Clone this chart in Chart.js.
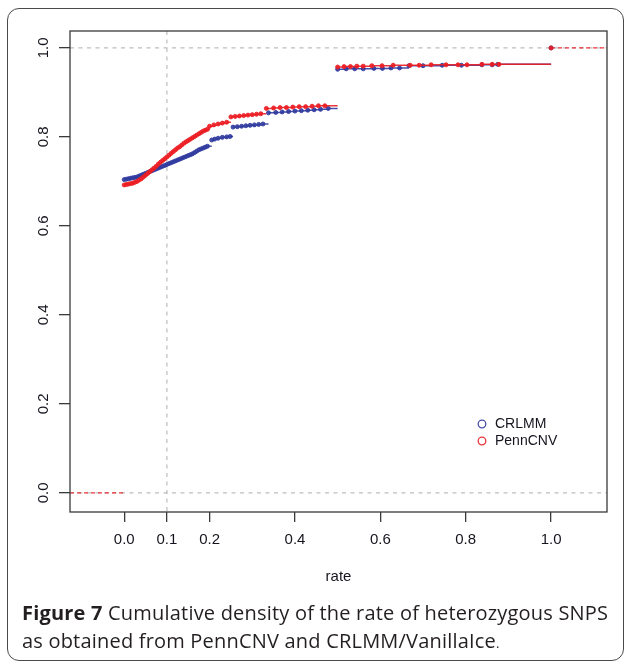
<!DOCTYPE html>
<html>
<head>
<meta charset="utf-8">
<script src="https://cdn.jsdelivr.net/npm/chart.js@4/dist/chart.umd.min.js"></script>
<style>
  html,body{margin:0;padding:0;background:#fff;}
  #frame{position:absolute;left:7px;top:8px;width:617px;height:653px;box-sizing:border-box;border:1.5px solid #4a4a4a;border-radius:12px;}
  #wrap{position:absolute;left:0;top:0;width:624px;height:600px;}
  #cap{position:absolute;left:22px;top:599px;font-family:'Open Sans',sans-serif;font-size:20px;letter-spacing:0.2px;line-height:28px;color:#231f20;white-space:nowrap;}
  #cap b{font-weight:700;}
</style>
</head>
<body>
<div id="frame"></div>
<div id="wrap"><canvas id="c" width="624" height="600"></canvas></div>
<div id="cap"><b>Figure 7</b> Cumulative density of the rate of heterozygous SNPS<br>as obtained from PennCNV and CRLMM/VanillaIce<span style="font-size:13px">.</span></div>
<script>
// ---- data ----
const SERIES = ['CRLMM', 'PennCNV'];
const X_TICKS = [0.0, 0.1, 0.2, 0.4, 0.6, 0.8, 1.0];
const Y_TICKS = [0.0, 0.2, 0.4, 0.6, 0.8, 1.0];
const REF_X = [0.1];
const REF_Y = [0, 1];
const X_LABEL = 'rate';

const crlmmRate = [0.000,0.005,0.010,0.015,0.020,0.025,0.030,0.035,0.040,0.045,0.050,0.055,0.060,0.065,0.070,0.075,0.080,0.085,0.090,0.095,
  0.100,0.105,0.110,0.115,0.120,0.125,0.130,0.135,0.140,0.145,0.150,0.155,0.160,0.165,0.170,0.175,0.180,0.185,0.190,0.195,
  0.205,0.212,0.220,0.230,0.240,0.248,
  0.255,0.265,0.275,0.285,0.295,0.305,0.315,0.325,
  0.338,0.355,0.370,0.385,0.400,0.415,0.430,0.445,0.460,0.478,
  0.500,0.520,0.540,0.560,0.585,0.605,0.625,0.645,
  0.667,0.700,0.745,0.790,0.838,0.862,0.875,1.000];
const crlmmCdf = [0.704,0.705,0.706,0.707,0.708,0.709,0.710,0.712,0.714,0.716,0.718,0.720,0.722,0.724,0.726,0.728,0.730,0.732,0.734,0.736,
  0.738,0.740,0.742,0.744,0.746,0.748,0.750,0.752,0.754,0.756,0.758,0.760,0.762,0.765,0.768,0.771,0.773,0.775,0.777,0.779,
  0.793,0.795,0.797,0.799,0.800,0.801,
  0.822,0.823,0.824,0.825,0.826,0.827,0.828,0.829,
  0.854,0.855,0.856,0.857,0.858,0.859,0.860,0.861,0.862,0.864,
  0.952,0.953,0.953,0.953,0.954,0.954,0.955,0.955,
  0.960,0.960,0.961,0.961,0.962,0.962,0.963,1.000];

const pennRate = [0.000,0.005,0.010,0.015,0.020,0.025,0.030,0.035,0.040,0.045,0.050,0.055,0.060,0.065,0.070,0.075,0.080,0.085,0.090,0.095,
  0.100,0.105,0.110,0.115,0.120,0.125,0.130,0.135,0.140,0.145,0.150,0.155,0.160,0.165,0.170,0.175,0.180,0.185,0.190,0.195,
  0.200,0.210,0.220,0.230,0.240,
  0.250,0.260,0.270,0.280,0.290,0.300,0.310,0.320,
  0.333,0.350,0.365,0.380,0.395,0.410,0.425,0.440,0.455,0.470,
  0.500,0.515,0.530,0.545,0.560,0.580,0.604,0.630,0.670,0.691,0.719,0.754,0.782,0.803,0.838,0.862,0.878,1.000];
const pennCdf = [0.692,0.693,0.694,0.695,0.696,0.698,0.700,0.703,0.706,0.710,0.714,0.718,0.722,0.726,0.730,0.734,0.739,0.743,0.747,0.751,
  0.755,0.759,0.763,0.767,0.771,0.775,0.778,0.782,0.786,0.789,0.792,0.795,0.798,0.801,0.804,0.807,0.810,0.813,0.815,0.817,
  0.824,0.827,0.829,0.831,0.833,
  0.845,0.846,0.847,0.848,0.849,0.850,0.851,0.852,
  0.864,0.865,0.866,0.866,0.867,0.868,0.868,0.869,0.870,0.870,
  0.957,0.958,0.958,0.959,0.959,0.960,0.960,0.961,0.961,0.961,0.962,0.962,0.962,0.962,0.963,0.963,0.963,1.000];

// ---- styles ----
const BLUE = 'rgba(50,60,160,0.9)';
const RED = 'rgba(235,30,35,0.9)';
const AXIS = '#3a3a3a';
const TXT = '#15151f';
const FONT = {family: "'Liberation Sans', Arial, sans-serif", size: 15};

// ECDF as horizontal step segments only (no verticals): point, then flat run to next jump, then a gap
function stepSegments(xs, ys) {
  const out = [];
  for (let i = 0; i < xs.length; i++) {
    out.push({x: xs[i], y: ys[i]});
    if (i < xs.length - 1) out.push({x: xs[i + 1], y: ys[i]});
    out.push({x: xs[i], y: null});
  }
  return out;
}
const radiusAtJumps = c => (c.dataIndex % 3 === 0 ? 2 : 0);

const line = (ctx, x1, y1, x2, y2) => { ctx.beginPath(); ctx.moveTo(x1, y1); ctx.lineTo(x2, y2); ctx.stroke(); };

const refPlugin = {
  id: 'refs',
  beforeDatasetsDraw(chart) {
    const {ctx, chartArea: a, scales: {x, y}} = chart;
    ctx.save();
    ctx.beginPath(); ctx.rect(a.left, a.top, a.right - a.left, a.bottom - a.top); ctx.clip();
    ctx.strokeStyle = '#bdbdbd'; ctx.lineWidth = 1.2; ctx.setLineDash([4, 4.5]);
    REF_Y.forEach(v => { const p = y.getPixelForValue(v); line(ctx, a.left, p, a.right, p); });
    REF_X.forEach(v => { const p = x.getPixelForValue(v); line(ctx, p, a.top, p, a.bottom); });
    // ECDF extensions outside the data range: 0 before the first jump, 1 after the last
    const xs = pennRate, ys = pennCdf;
    ctx.strokeStyle = RED; ctx.lineWidth = 1.3; ctx.setLineDash([4, 3]);
    line(ctx, a.left, y.getPixelForValue(0), x.getPixelForValue(xs[0]), y.getPixelForValue(0));
    const ly = y.getPixelForValue(ys[ys.length - 1]);
    line(ctx, x.getPixelForValue(xs[xs.length - 1]), ly, a.right, ly);
    ctx.restore();
  },
  afterDraw(chart) {
    const {ctx, chartArea: a} = chart;
    ctx.save();
    ctx.strokeStyle = AXIS; ctx.lineWidth = 1.3;
    ctx.strokeRect(a.left, a.top, a.right - a.left, a.bottom - a.top);
    // legend (bottom right, inside plot)
    const lx = a.right - 125, ly0 = a.bottom - 88, dy = 17;
    ctx.font = `${FONT.size - 1}px ${FONT.family}`;
    ctx.textBaseline = 'middle'; ctx.textAlign = 'left';
    SERIES.forEach((name, i) => {
      const ds = chart.data.datasets.find(dd => dd.label === name);
      const yy = ly0 + i * dy;
      ctx.beginPath(); ctx.arc(lx, yy, 3.8, 0, Math.PI * 2);
      ctx.strokeStyle = ds.borderColor; ctx.lineWidth = 1.3; ctx.stroke();
      ctx.fillStyle = TXT; ctx.fillText(name, lx + 13, yy + 0.5);
    });
    ctx.restore();
  }
};

new Chart(document.getElementById('c'), {
  type: 'line',
  data: {
    datasets: [
      {label: SERIES[0], data: stepSegments(crlmmRate, crlmmCdf), borderColor: BLUE, backgroundColor: BLUE,
       pointBackgroundColor: BLUE, pointBorderColor: BLUE, spanGaps: false, borderWidth: 1.5,
       pointRadius: radiusAtJumps, pointBorderWidth: 1, order: 1},
      {label: SERIES[1], data: stepSegments(pennRate, pennCdf), borderColor: RED, backgroundColor: RED,
       pointBackgroundColor: RED, pointBorderColor: RED, spanGaps: false, borderWidth: 1.5,
       pointRadius: radiusAtJumps, pointBorderWidth: 1, order: 0}
    ]
  },
  options: {
    responsive: false, animation: false,
    layout: {padding: {top: 31, right: 17, left: 0, bottom: 0}},
    plugins: {legend: {display: false}, tooltip: {enabled: false}},
    scales: {
      x: {
        type: 'linear', min: -0.127, max: 1.131,
        afterBuildTicks: s => { s.ticks = X_TICKS.map(v => ({value: v})); },
        afterFit: s => { s.height = 88; },
        ticks: {font: FONT, color: TXT, padding: 9, autoSkip: false, maxRotation: 0, callback: v => Number(v).toFixed(1)},
        grid: {drawOnChartArea: false, tickLength: 10, color: AXIS, lineWidth: 1.3},
        border: {display: false},
        title: {display: true, text: X_LABEL, font: FONT, color: TXT, padding: {top: 0, bottom: 14}}
      },
      y: {
        type: 'linear', min: -0.043, max: 1.038,
        afterBuildTicks: s => { s.ticks = Y_TICKS.map(v => ({value: v})); },
        afterFit: s => { s.width = 70; },
        ticks: {font: FONT, color: TXT, padding: 5, minRotation: 90, maxRotation: 90, crossAlign: 'center', autoSkip: false,
                callback: v => Number(v).toFixed(1)},
        grid: {drawOnChartArea: false, tickLength: 11, color: AXIS, lineWidth: 1.3},
        border: {display: false}
      }
    }
  },
  plugins: [refPlugin]
});
</script>
</body>
</html>
